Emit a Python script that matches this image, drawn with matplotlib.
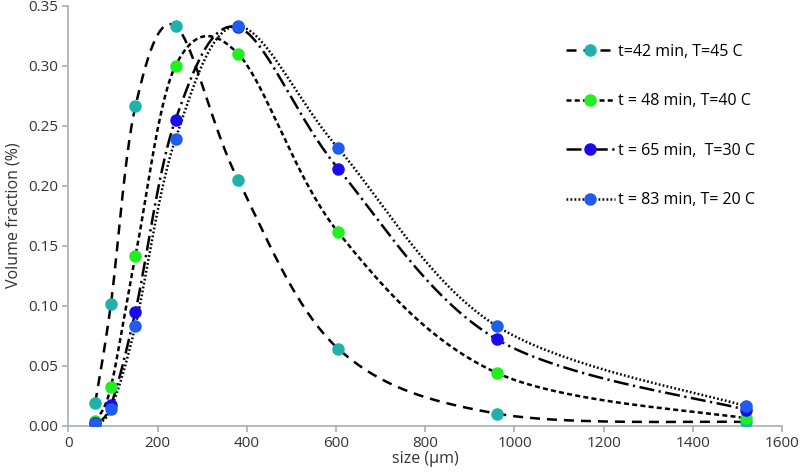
import numpy as np
import matplotlib
matplotlib.use("Agg")
import matplotlib.pyplot as plt
from matplotlib.lines import Line2D

plt.rcParams['font.family'] = ['Open Sans', 'DejaVu Sans']

# sieve sizes (um)
size = [60, 95, 150, 240, 380, 605, 960, 1520]

# volume fraction per run
vf_42 = [0.019, 0.101, 0.266, 0.333, 0.205, 0.064, 0.010, 0.003]
vf_48 = [0.004, 0.032, 0.141, 0.300, 0.310, 0.161, 0.044, 0.006]
vf_65 = [0.002, 0.017, 0.095, 0.255, 0.332, 0.214, 0.072, 0.013]
vf_83 = [0.001, 0.014, 0.083, 0.239, 0.333, 0.231, 0.083, 0.016]

labels = ["t=42 min, T=45 C", "t = 48 min, T=40 C",
          "t = 65 min,  T=30 C", "t = 83 min, T= 20 C"]
colors = ["#20b2aa", "#22ee22", "#1a0aee", "#1f5cf0"]
styles = [(0, (4.0, 2.8)), (0, (2.0, 1.3)), (0, (6.0, 1.8, 0.9, 1.8)), (0, (0.7, 0.9))]


def smooth(x, y, n=40):
    # excel-like smoothed line (catmull-rom bezier)
    p = np.column_stack([x, y]).astype(float)
    out = []
    for i in range(len(p) - 1):
        p0 = p[i - 1] if i > 0 else p[i]
        p1 = p[i]
        p2 = p[i + 1]
        p3 = p[i + 2] if i + 2 < len(p) else p[i + 1]
        c1 = p1 + (p2 - p0) / 6
        c2 = p2 - (p3 - p1) / 6
        t = np.linspace(0, 1, n)[:, None]
        b = ((1 - t) ** 3) * p1 + 3 * ((1 - t) ** 2) * t * c1 + 3 * (1 - t) * t ** 2 * c2 + t ** 3 * p2
        out.append(b)
    out = np.vstack(out)
    return out[:, 0], out[:, 1]


fig = plt.figure(figsize=(8, 4.75), dpi=100)
ax = fig.add_axes([0.0856, 0.104, 0.892, 0.884])

handles = []
for vals, lab, col, ls in zip([vf_42, vf_48, vf_65, vf_83], labels, colors, styles):
    sx, sy = smooth(size, vals)
    ax.plot(sx, sy, color="black", lw=1.8, linestyle=ls, zorder=2)
    ax.plot(size, vals, 'o', color=col, ms=8, zorder=3)
    handles.append(Line2D([], [], color="black", lw=1.8, linestyle=ls,
                          marker='o', markerfacecolor=col, markeredgecolor=col, ms=8))

ax.set_xlim(0, 1600)
ax.set_ylim(0, 0.35)
ax.set_xticks(np.arange(0, 1601, 200))
ax.set_yticks(np.arange(0, 0.351, 0.05))
ax.yaxis.set_major_formatter(matplotlib.ticker.FormatStrFormatter('%.2f'))

for s in ["top", "right"]:
    ax.spines[s].set_visible(False)
for s in ["left", "bottom"]:
    ax.spines[s].set_color("#a7b0b0")
    ax.spines[s].set_linewidth(1.2)
ax.tick_params(colors="#a7b0b0", labelcolor="#333333", labelsize=11, length=4, width=1.2)

ax.set_xlabel("size (μm)", fontsize=11.5, color="#333333", labelpad=0)
ax.set_ylabel("Volume fraction (%)", fontsize=11.5, color="#333333", labelpad=5)

ax.legend(handles, labels, loc="upper left", bbox_to_anchor=(0.688, 0.925), frameon=False,
          fontsize=11.5, handlelength=3.05, handletextpad=0.2, labelspacing=2.1,
          borderaxespad=0)

fig.savefig("out.png", dpi=100)
